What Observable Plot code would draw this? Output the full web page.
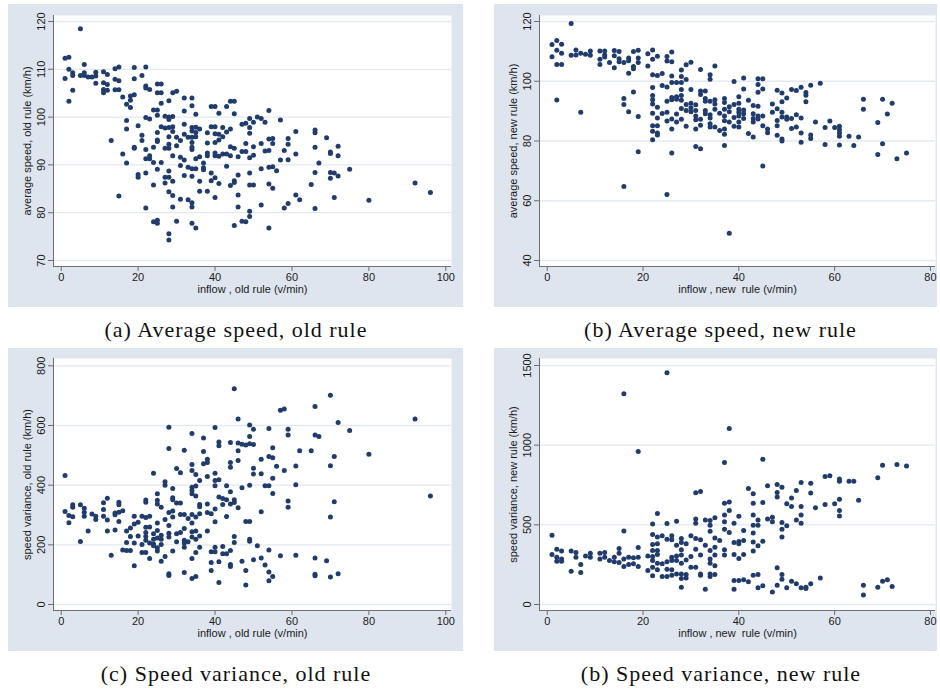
<!DOCTYPE html>
<html><head><meta charset="utf-8">
<script src="https://cdn.jsdelivr.net/npm/d3@7"></script>
<script src="https://cdn.jsdelivr.net/npm/@observablehq/plot@0.6"></script>
<style>
body{margin:0;background:#fff;}
#root{position:relative;width:940px;height:693px;overflow:hidden;background:#fff;}
.panel{position:absolute;}
.panel svg{display:block;}
</style></head>
<body><div id="root"></div>
<script>
// ---- data: [inflow (v/min), value] ----
const speedOldRule = [
[1,112.3],[1,108.1],[2,112.5],[2,110],[2,103.3],[3,109.3],[3,108.7],[3,105.6],[5,118.5],[5,108.7],
[6,111],[6,109.3],[6,108.7],[7,108.4],[8,108.4],[9,109.4],[9,108.6],[9,107.1],
[11,109.5],[11,107.2],[11,105.8],[11,105.1],[12,108.9],[12,106.8],[12,105.6],[13,95.1],
[14,110.1],[14,107.9],[14,105.7],[15,110.5],[15,107.6],[15,105.7],[15,83.5],[16,104.2],[16,92.3],
[17,102.7],[17,99.3],[17,97.5],[17,90.4],[18,104.4],[18,103.5],[18,102],
[19,110.4],[19,108],[19,104.7],[19,93.7],[19,93.5],[20,98.2],[20,88],[20,87.4],[21,108.7],[21,96.2],[21,95.1],
[22,110.5],[22,106.5],[22,106.1],[22,99.9],[22,93.2],[22,91.3],[22,88.3],[22,81],
[23,105.8],[23,99.6],[23,91.9],[23,91.3],[24,101.5],[24,93.7],[24,90.5],[24,85.8],[24,78.1],
[25,106.9],[25,105.1],[25,101.5],[25,100.4],[25,96.8],[25,95.2],[25,94.9],[25,89.1],[25,78.4],[25,77.8],
[26,106.9],[26,105.1],[26,102.9],[26,98],[26,90.5],[27,100.2],[27,97.7],[27,93.5],[27,87.4],[27,86.2],
[28,103.4],[28,100],[28,99.5],[28,97.8],[28,95.9],[28,94.3],[28,93.5],[28,88.7],[28,87.4],[28,84.4],[28,75.6],[28,74.3],
[29,105.1],[29,100.1],[29,98],[29,97],[29,91.9],[29,86.6],[29,83.6],[29,81.2],[30,105.4],[30,95.8],[30,94],[30,78.2],
[31,95.1],[31,91.6],[31,89.9],[31,82.8],[32,104],[32,101.3],[32,98.5],[32,96.4],[32,91],[32,87.8],
[33,95.8],[33,89.5],[33,82.7],
[34,104],[34,102.4],[34,97.8],[34,97.1],[34,95.8],[34,94.7],[34,93.7],[34,93.2],[34,89.2],[34,87.6],[34,82.1],[34,81.2],[34,77.8],
[35,100.6],[35,97.9],[35,96.8],[35,95.9],[35,91.3],[35,89.2],[35,76.8],[36,97.5],[36,91.7],[36,86.6],[36,84.5],
[37,90.4],[37,89.4],[37,89],[38,96.7],[38,94.6],[38,92.5],[38,91.9],[38,84.5],[39,102.2],[39,98],[39,88.3],[39,86.7],
[40,102.2],[40,98],[40,96.5],[40,94.7],[40,92.5],[40,91.9],[40,87.3],[40,83.2],[41,100.8],[41,96.4],[41,95.2],[41,91.8],[41,86.1],
[42,97.8],[42,95.9],[42,92.3],[43,102.2],[43,96.9],[43,92.3],[43,89.7],[44,103.3],[44,97.5],[44,93.8],[44,91.9],[44,85.7],
[45,103.3],[45,100.7],[45,93.5],[45,86.7],[45,86.3],[45,77.3],[46,91.7],[46,87.9],[46,83.7],[46,81.2],
[47,98.5],[47,92.8],[47,78.2],[48,98.7],[48,94.5],[48,92.8],[48,78.1],
[49,99.7],[49,97.8],[49,96.6],[49,91.5],[49,88.3],[49,85.8],[49,80.3],[49,79.2],[50,98.9],[50,93.8],[50,92],[50,85.8],
[51,100],[52,99.7],[52,94.5],[52,89.2],[52,81.6],[53,98.9],[53,92.9],
[54,101.4],[54,95.4],[54,93],[54,89.5],[54,86],[54,76.8],[55,95.5],[55,94.5],[55,89.6],[55,85.1],[56,88.8],
[57,99.4],[57,91],[58,93],[58,81],[59,95.5],[59,94.3],[59,91.1],[59,81.9],[61,97],[61,92.3],[61,83.7],[62,82.7],
[65,85.9],[66,97.3],[66,96.7],[66,93.7],[66,88.4],[66,80.9],[67,90.4],[69,95.7],
[70,92.7],[70,92.4],[70,88.4],[70,87.2],[71,88.3],[71,83.2],[72,93.9],[72,91.9],[72,87.7],
[75,89.1],[80,82.6],[92,86.2],[96,84.2]
];
const speedNewRule = [
[1,112.3],[1,108.2],[2,113.6],[2,110.4],[2,105.6],[2,93.7],[3,112.4],[3,109.4],[3,105.6],[5,119.3],[5,108.7],
[6,110.5],[6,108.8],[7,109.4],[7,89.6],[8,109],[9,110.1],[9,108.7],[11,110.1],[11,107.4],[11,105.6],
[12,110.1],[12,108.8],[12,108.1],[13,106.3],[14,110.3],[14,108.5],[14,104.5],[15,110],[15,107.5],[15,106.5],
[16,106.3],[16,94.2],[16,92.2],[16,64.8],[17,107.8],[17,106.9],[17,102.7],[17,89.8],
[18,110],[18,104.9],[18,104.2],[18,96.4],[19,110.4],[19,107.8],[19,106.3],[19,88.2],[19,76.4],[21,109.2],[21,105.1],
[22,110.5],[22,107.4],[22,102.2],[22,97.9],[22,95.2],[22,93.8],[22,92.4],[22,89.3],[22,85.1],[22,83.3],[22,80.4],
[23,108.4],[23,101.9],[23,91.3],[23,87.7],[23,85.1],[23,82.7],[23,82],[24,102.6],[24,98.6],[24,89.2],
[25,108.3],[25,106.8],[25,98.1],[25,93.3],[25,89.6],[25,86.7],[25,62.1],
[26,109.8],[26,106.5],[26,101.8],[26,99.6],[26,94.6],[26,93.8],[26,87.4],[26,84],[26,76],
[27,99.6],[27,94.8],[27,94],[27,89],[27,86.4],[28,103.8],[28,101.6],[28,99.6],[28,97.2],[28,95.2],[28,93.6],[28,90.9],[28,87.3],
[29,105.5],[29,100.6],[29,92.2],[29,90.2],[29,84.9],[30,106.4],[30,97.2],[30,92.6],[30,91.1],[30,89.8],
[31,92.1],[31,90.2],[31,88.4],[31,87.1],[31,84],[31,78.2],[32,103.9],[32,96.7],[32,95.6],[32,87.3],[32,85.3],[32,77.4],
[33,96.7],[33,94.2],[33,93.3],[33,90.2],[33,89.1],[34,102.2],[34,100.7],[34,93.3],[34,88.8],[34,87.7],[34,85.8],[34,84.7],
[35,105.1],[35,93.8],[35,92.4],[35,90.6],[35,84.7],[36,89.3],[36,83.5],
[37,94.2],[37,92.9],[37,90.6],[37,88.4],[37,86.8],[37,84],[37,82.3],[37,78.5],[38,91.5],[38,89.8],[38,86.4],[38,49.1],
[39,99.9],[39,92.2],[39,87.9],[39,84.9],[40,94.8],[40,92.6],[40,90.6],[40,89.6],[40,88.4],[40,86.4],[40,84.7],
[41,101.1],[41,97.4],[41,90.4],[41,89.1],[41,87.5],[42,93.6],[42,82.5],[43,91.9],[43,89.1],[43,87.5],[43,86.4],[43,81.3],
[44,100.8],[44,98.9],[44,96.3],[44,91.6],[44,88.4],[44,87.4],[45,100.8],[45,97.4],[45,88.4],[45,85.1],[45,71.6],
[46,84],[46,82.8],[47,92.4],[47,89.6],[48,97],[48,90.8],[48,86.9],[48,85.1],[48,81.9],
[49,96.1],[49,93.1],[49,89.6],[49,88],[49,80.7],[49,80],[50,94.4],[50,88],[50,87.3],[51,97.2],[51,87.5],[51,84.2],
[52,96.9],[52,88.8],[52,84.7],[53,98],[53,87.7],[53,82.7],[53,79.6],[54,96.2],[54,95.3],[54,93.1],[55,98.7],[55,82],[55,80.8],
[56,86.4],[57,99.3],[58,84.5],[58,78.8],[59,86.7],[60,84.5],[61,84.9],[61,83.8],[61,82.7],[61,81.6],[61,78.7],
[63,81.6],[64,78.5],[65,81.3],[66,94],[66,90.6],[69,86.2],[69,75.5],[70,94],[70,79.1],[71,89],[72,92.6],[73,74.1],[75,76]
];
const varianceOldRule = [
[1,432],[1,312],[2,298],[2,274],[3,334],[3,326],[3,294],[5,334],[5,211],[6,323],[6,309],[6,296],[7,246],[8,303],
[9,296],[9,285],[11,341],[11,318],[11,296],[12,356],[12,283],[12,246],[13,165],[14,307],[14,301],[14,250],
[15,343],[15,334],[15,309],[15,278],[16,314],[16,183],[17,246],[17,208],[17,181],[18,256],[18,228],[18,181],
[19,296],[19,270],[19,206],[19,130],[20,276],[20,230],[21,296],[21,201],[21,174],
[22,350],[22,343],[22,292],[22,259],[22,241],[22,228],[22,215],[22,174],[23,296],[23,260],[23,206],[23,154],
[24,440],[24,237],[24,219],[24,203],[24,197],[25,371],[25,349],[25,337],[25,273],[25,248],[25,223],[25,190],[25,179],
[26,326],[26,232],[26,219],[26,201],[26,145],[27,411],[27,400],[27,285],[27,161],
[28,594],[28,523],[28,308],[28,265],[28,239],[28,226],[28,103],[28,97],[29,389],[29,358],[29,351],[29,313],[29,293],[29,179],
[30,456],[30,340],[30,237],[30,210],[31,442],[31,340],[31,302],[31,241],[32,517],[32,302],[32,255],[32,215],[32,206],[32,192],[32,107],
[33,288],[33,210],[34,573],[34,469],[34,449],[34,393],[34,382],[34,371],[34,302],[34,273],[34,244],[34,226],[34,154],[34,87],
[35,436],[35,397],[35,364],[35,293],[35,246],[35,219],[35,174],[35,94],[36,416],[36,335],[36,328],[36,304],[36,230],[36,192],
[37,558],[37,513],[37,472],[38,487],[38,476],[38,429],[38,337],[38,308],[38,246],[39,304],[39,177],[39,141],[39,114],
[40,593],[40,440],[40,416],[40,398],[40,320],[40,277],[40,192],[40,177],[41,545],[41,532],[41,418],[41,360],[41,143],[41,74],
[42,355],[42,335],[42,194],[42,170],[43,398],[43,351],[43,295],[43,170],[44,543],[44,476],[44,460],[44,378],[44,337],[44,181],[44,134],[44,127],
[45,723],[45,351],[45,342],[45,228],[45,208],[46,622],[46,541],[46,515],[46,483],[46,324],[47,537],[47,391],[47,145],
[48,535],[48,278],[48,114],[48,65],[49,602],[49,563],[49,539],[49,400],[49,278],[49,219],[49,212],
[50,587],[50,536],[50,457],[50,437],[50,150],[51,197],[52,487],[52,438],[52,311],[52,156],[53,398],[53,132],
[54,590],[54,496],[54,398],[54,183],[54,109],[54,80],[55,525],[55,492],[55,423],[55,372],[55,94],[56,463],
[57,651],[57,163],[58,655],[58,449],[59,587],[59,568],[59,347],[59,326],[61,464],[61,401],[61,165],[62,515],
[65,515],[66,664],[66,568],[66,156],[66,101],[66,96],[67,563],[69,147],[70,701],[70,465],[70,293],[70,92],
[71,496],[71,344],[72,610],[72,103],[75,583],[80,504],[92,622],[96,364]
];
const varianceNewRule = [
[1,435],[1,314],[2,347],[2,297],[2,272],[3,335],[3,285],[3,272],[5,335],[5,209],[6,326],[6,297],[7,251],[7,201],
[8,305],[9,322],[9,297],[11,322],[11,285],[12,326],[12,297],[13,276],[14,297],[14,268],[15,351],[15,322],[15,264],
[16,1322],[16,462],[16,285],[16,238],[17,297],[17,251],[18,293],[18,255],[19,960],[19,358],[19,297],[19,238],[21,305],[21,213],
[22,506],[22,439],[22,377],[22,339],[22,301],[22,276],[22,234],[22,180],[23,571],[23,423],[23,381],[23,339],[23,314],[23,259],[23,218],
[24,431],[24,255],[24,176],[25,1454],[25,508],[25,410],[25,268],[25,222],[25,176],[26,431],[26,406],[26,297],[26,276],[26,218],[26,184],
[27,523],[27,372],[27,305],[27,276],[27,192],[28,414],[28,389],[28,343],[28,310],[28,259],[28,192],[28,163],[28,109],
[29,381],[29,280],[29,188],[29,167],[30,431],[30,301],[30,234],[31,701],[31,536],[31,510],[31,414],[31,347],[31,234],
[32,709],[32,406],[32,310],[32,192],[32,184],[33,531],[33,372],[33,96],[34,527],[34,498],[34,460],[34,339],[34,285],[34,259],[34,192],[34,176],
[35,544],[35,418],[35,360],[35,310],[35,243],[35,188],[36,402],[37,891],[37,636],[37,561],[37,519],[37,473],[37,343],[37,310],
[38,1105],[38,644],[38,590],[38,452],[39,510],[39,389],[39,314],[39,151],[39,96],[40,554],[40,395],[40,381],[40,289],[40,151],
[41,464],[41,402],[41,314],[41,155],[42,728],[42,142],[43,695],[43,636],[43,561],[43,498],[43,448],[43,393],[43,335],[43,184],
[44,531],[44,498],[44,368],[44,188],[44,105],[45,912],[45,640],[45,397],[45,117],[46,745],[46,536],[47,548],[47,519],[47,79],
[48,753],[48,703],[48,674],[48,230],[48,121],[49,736],[49,515],[49,473],[49,423],[49,188],[49,159],[50,632],[50,494],[50,105],
[51,669],[51,615],[51,146],[52,715],[52,531],[52,130],[53,766],[53,615],[53,561],[53,510],[53,105],[54,109],[54,100],
[55,761],[55,699],[55,130],[56,607],[57,167],[58,803],[58,628],[59,808],[60,632],[61,787],[61,774],[61,661],[61,590],[61,556],
[63,774],[64,774],[65,655],[66,121],[66,59],[69,795],[69,109],[70,874],[70,146],[71,155],[72,113],[73,879],[75,870]
];

// ---- axis ticks and labels ----
const ticksInflowOld = [0, 20, 40, 60, 80, 100];
const ticksInflowNew = [0, 20, 40, 60, 80];
const ticksSpeedOld = [70, 80, 90, 100, 110, 120];
const ticksSpeedNew = [40, 60, 80, 100, 120];
const ticksVarOld = [0, 200, 400, 600, 800];
const ticksVarNew = [0, 500, 1000, 1500];
const captions = ["(a) Average speed, old rule", "(b) Average speed, new rule", "(c) Speed variance, old rule", "(b) Speed variance, new rule"];

const BG = "#dfe5ef", GRID = "#e4e9f0", AXIS = "#6e6e6e", DOT = "#203c6c";

function panel(o) {
  const chart = Plot.plot({
    width: o.width, height: 303,
    marginLeft: 45, marginRight: o.mr, marginTop: o.mt, marginBottom: 41,
    style: {background: BG, fontFamily: "'Liberation Sans', Arial, sans-serif", fontSize: "11px", color: "#1a1a1a", overflow: "visible"},
    x: {domain: o.xd, label: null},
    y: {domain: o.yd, label: null},
    marks: [
      Plot.frame({fill: "white", stroke: null}),
      Plot.ruleY(o.yt, {stroke: GRID, strokeWidth: 1.3}),
      Plot.ruleX([o.xd[0]], {stroke: AXIS}),
      Plot.ruleY([o.yd[0]], {stroke: AXIS}),
      Plot.axisX({ticks: o.xt, tickSize: 5, tickPadding: 2, stroke: AXIS, tickFormat: d => String(d), label: null}),
      Plot.axisY({ticks: o.yt, tickSize: 5, tickRotate: -90, stroke: AXIS, tickFormat: d => String(d), label: null}),
      Plot.text([o.xl], {frameAnchor: "bottom", dy: 23, lineAnchor: "middle", textAnchor: "middle", fill: "#1a1a1a"}),
      Plot.text([o.yl], {frameAnchor: "left", dx: -26, rotate: -90, lineAnchor: "middle", textAnchor: "middle", fill: "#1a1a1a"}),
      Plot.dot(o.data, {x: d => d[0], y: d => d[1], r: 2.5, fill: DOT, stroke: null})
    ]
  });
  const div = document.createElement("div");
  div.className = "panel";
  div.style.left = o.left + "px";
  div.style.top = o.top + "px";
  div.appendChild(chart);
  document.getElementById("root").appendChild(div);
}

panel({data: speedOldRule, left: 8, top: 4, width: 455, mr: 12, mt: 11,
  xd: [-2.0, 101.48], yd: [68.745, 121.255], xt: ticksInflowOld, yt: ticksSpeedOld,
  xl: "inflow , old rule (v/min)", yl: "average speed, old rule (km/h)"});
panel({data: speedNewRule, left: 494, top: 4, width: 443, mr: 2, mt: 11,
  xd: [-1.61, 81.05], yd: [37.99, 122.01], xt: ticksInflowNew, yt: ticksSpeedNew,
  xl: "inflow , new  rule (v/min)", yl: "average speed, new rule (km/h)"});
panel({data: varianceOldRule, left: 8, top: 348, width: 455, mr: 12, mt: 10,
  xd: [-2.0, 101.48], yd: [-20.1, 824.5], xt: ticksInflowOld, yt: ticksVarOld,
  xl: "inflow , old rule (v/min)", yl: "speed variance, old rule (km/h)"});
panel({data: varianceNewRule, left: 494, top: 348, width: 443, mr: 2, mt: 10,
  xd: [-1.61, 81.05], yd: [-37.66, 1543.9], xt: ticksInflowNew, yt: ticksVarNew,
  xl: "inflow , new  rule (v/min)", yl: "speed variance, new rule (km/h)"});

// captions
const cap = d3.select("#root").append("svg")
  .attr("width", 940).attr("height", 693)
  .style("position", "absolute").style("left", 0).style("top", 0).style("pointer-events", "none");
const capPos = [[236, 337], [720.5, 337], [236, 681], [721, 681]];
cap.selectAll("text").data(captions).join("text")
  .attr("x", (d, i) => capPos[i][0]).attr("y", (d, i) => capPos[i][1])
  .attr("text-anchor", "middle")
  .attr("font-family", "'Liberation Serif', 'Times New Roman', serif")
  .attr("font-size", 22).attr("letter-spacing", "1px").attr("fill", "#111")
  .text(d => d);
</script>
</body></html>
